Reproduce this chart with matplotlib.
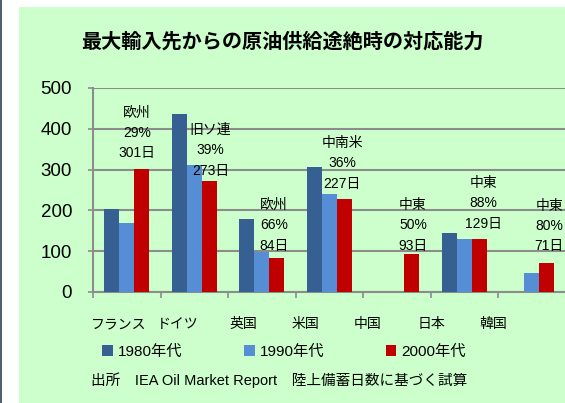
import numpy as np
import matplotlib
matplotlib.use("Agg")
import matplotlib.pyplot as plt
from matplotlib.patches import Rectangle, Patch

plt.rcParams['font.family'] = ['Liberation Sans', 'Noto Sans CJK JP', 'DejaVu Sans']

# ---- data ----
countries = ['フランス', 'ドイツ', '英国', '米国', '中国', '日本', '韓国']
series_names = ['1980年代', '1990年代', '2000年代']
v1980 = [203, 436, 178, 307, np.nan, 145, np.nan]
v1990 = [168, 311, 97, 240, np.nan, 130, 46]
v2000 = [301, 273, 84, 227, 93, 129, 71]
annot_region = ['欧州', '旧ソ連', '欧州', '中南米', '中東', '中東', '中東']
annot_pct = ['29%', '39%', '66%', '36%', '50%', '88%', '80%']
annot_days = ['301日', '273日', '84日', '227日', '93日', '129日', '71日']
yticks = [0, 100, 200, 300, 400, 500]
title = '最大輸入先からの原油供給途絶時の対応能力'
source = '出所　IEA Oil Market Report　陸上備蓄日数に基づく試算'

# ---- layout / style ----
colors = ['#376092', '#558ED5', '#C00000']
bg = '#CCFFCC'
grid_c = '#8C8C8C'
annot_x = [0.65, 1.74, 2.68, 3.69, 4.74, 5.78, 6.76]   # text positions (category units)
annot_y = [439, 397, 213, 365, 213, 267, 211]          # first-line position (value units)
label_x_px = [119, 178, 243, 305, 368, 431, 493]       # x label centres in pixels

W, H = 565, 403
fig = plt.figure(figsize=(W / 100, H / 100), dpi=100)
fig.patch.set_facecolor('white')
fig.add_artist(Rectangle((19 / W, 0), 1 - 19 / W, (H - 7) / H,
                         transform=fig.transFigure, facecolor=bg, edgecolor='none', zorder=-10))
fig.add_artist(Rectangle((0, 0), 2 / W, 1, transform=fig.transFigure,
                         facecolor='#4F5F6F', edgecolor='none', zorder=-9))

ax = fig.add_axes([93 / W, (H - 292) / H, (565.5 - 93) / W, (292 - 88) / H])
ax.set_facecolor('none')

n = len(countries)
x = np.arange(n) + 0.5
bw = 0.222
for k, vals in enumerate([v1980, v1990, v2000]):
    ax.bar(x + (k - 1) * bw, vals, width=bw, color=colors[k], edgecolor='none',
           label=series_names[k], zorder=3)

ax.set_xlim(0, n)
ax.set_ylim(0, 500)
ax.set_yticks(yticks)
ax.set_yticklabels([str(t) for t in yticks], fontsize=13.5)
ax.tick_params(axis='y', length=3.6, width=1.2, color=grid_c, pad=11.5)
ax.set_xticks(np.arange(n + 1))
ax.set_xticklabels([])
ax.tick_params(axis='x', length=4, width=1.2, color=grid_c)
ax.grid(axis='y', color=grid_c, linewidth=1.5, zorder=1)
for s in ['top', 'right']:
    ax.spines[s].set_visible(False)
for s in ['left', 'bottom']:
    ax.spines[s].set_color(grid_c)
    ax.spines[s].set_linewidth(1.5)

# annotations
for i in range(n):
    for j, txt in enumerate([annot_region[i], annot_pct[i], annot_days[i]]):
        ax.annotate(txt, (annot_x[i], annot_y[i]), xytext=(0, -14.6 * j),
                    textcoords='offset points', ha='center', va='center',
                    fontsize=10, zorder=5, annotation_clip=False)

# x category labels
for lbl, px in zip(countries, label_x_px):
    fig.text(px / W, 1 - 324 / H, lbl, ha='center', va='center', fontsize=10)

fig.text(282 / W, 1 - 42 / H, title, ha='center', va='center', fontsize=14.5,
         fontweight='bold')

handles = [Patch(facecolor=c, edgecolor='none') for c in colors]
fig.legend(handles, series_names, loc='center', bbox_to_anchor=(284 / W, 1 - 352 / H),
           ncol=3, frameon=False, fontsize=11, handlelength=0.7, handleheight=0.7,
           handletextpad=0.3, columnspacing=4.05, borderpad=0)

fig.text(279 / W, 1 - 380 / H, source, ha='center', va='center', fontsize=10.5)

fig.savefig('out.png', dpi=100, facecolor=fig.get_facecolor())
